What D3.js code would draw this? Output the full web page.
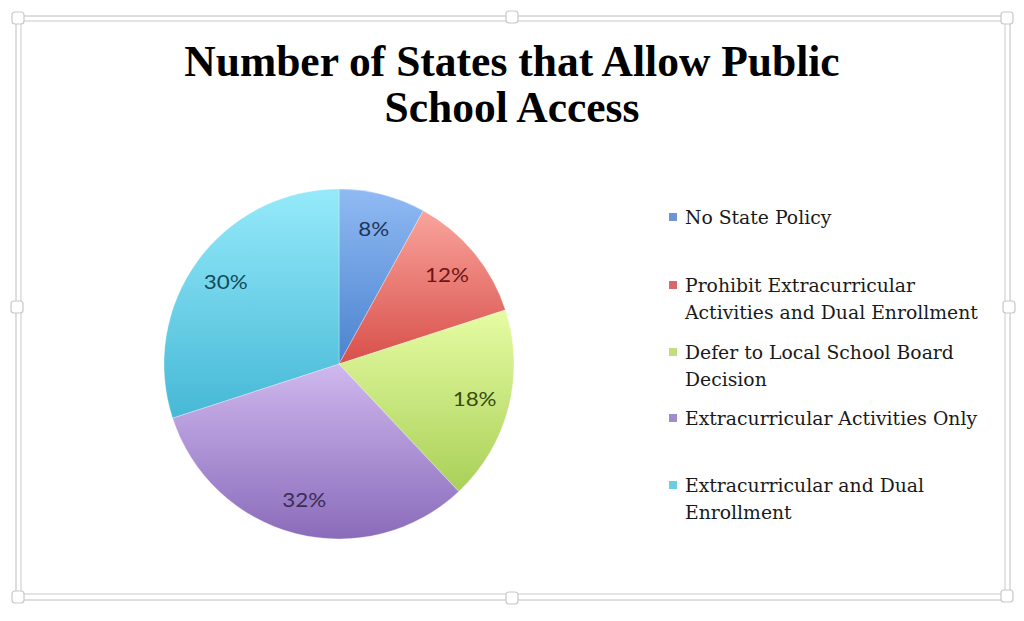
<!DOCTYPE html>
<html><head><meta charset="utf-8">
<script src="https://cdn.jsdelivr.net/npm/d3@7"></script>
<style>html,body{margin:0;padding:0;background:#fff;}svg{display:block;}</style>
</head><body>
<svg id="c" width="1024" height="621"></svg>
<script>
const categories = ["No State Policy","Prohibit Extracurricular Activities and Dual Enrollment","Defer to Local School Board Decision","Extracurricular Activities Only","Extracurricular and Dual Enrollment"];
const legendLines = [["No State Policy"],["Prohibit Extracurricular","Activities and Dual Enrollment"],["Defer to Local School Board","Decision"],["Extracurricular Activities Only"],["Extracurricular and Dual","Enrollment"]];
const values = [8,12,18,32,30];
const titleLines = ["Number of States that Allow Public","School Access"];
const lightColors = ["#90BAF3","#F9A49C","#E6FCA3","#CFB8EE","#95EAFA"];
const darkColors  = ["#4A83CF","#D84F4A","#A9D058","#8A6BBB","#46B8D6"];
const labelColors = ["#1E3356","#6E1512","#3A4A10","#3A2C55","#134B5A"];
const legendColors= ["#6D96D6","#D9676A","#C2DC80","#9F8CC8","#6CCCE2"];

const svg = d3.select("#c");

// frame
const frame = svg.append("g");
frame.append("rect").attr("x",16).attr("y",16).attr("width",994).attr("height",584)
  .attr("fill","none").attr("stroke","#d4d4d4").attr("stroke-width",1.5);
frame.append("rect").attr("x",21).attr("y",21).attr("width",984).attr("height",573)
  .attr("fill","none").attr("stroke","#dcdcdc").attr("stroke-width",1.5);
const handles = [[18,18],[512,17],[1007,18],[17,307],[1009,307],[18,597],[512,598],[1007,596]];
frame.selectAll("rect.h").data(handles).join("rect").attr("class","h")
  .attr("x",d=>d[0]-6).attr("y",d=>d[1]-6).attr("width",12).attr("height",12).attr("rx",3)
  .attr("fill","#fff").attr("stroke","#c8c8c8").attr("stroke-width",1.2);

// title
const title = svg.append("text").attr("text-anchor","middle")
  .attr("font-family","'Liberation Serif','DejaVu Serif',serif").attr("font-weight","bold")
  .attr("font-size",43.5).attr("fill","#000");
title.selectAll("tspan").data(titleLines).join("tspan")
  .attr("x",512).attr("y",(d,i)=>76+i*46).text(d=>d);

// gradients
const defs = svg.append("defs");
const cx = 339, cy = 364, r = 175;
values.forEach((v,i)=>{
  const g = defs.append("linearGradient").attr("id","g"+i)
    .attr("x1",0).attr("y1",0).attr("x2",0).attr("y2",1);
  g.append("stop").attr("offset","0%").attr("stop-color",lightColors[i]);
  g.append("stop").attr("offset","100%").attr("stop-color",darkColors[i]);
});

const pie = d3.pie().sort(null).value(d=>d)(values);
const arc = d3.arc().innerRadius(0).outerRadius(r);
const labelArc = d3.arc().innerRadius(140).outerRadius(140);
const pg = svg.append("g").attr("transform",`translate(${cx},${cy})`);
pg.selectAll("path").data(pie).join("path").attr("d",arc).attr("fill",(d,i)=>`url(#g${i})`)
  .attr("stroke","#ffffff").attr("stroke-width",0.6).attr("stroke-opacity",0.5);
pg.selectAll("text").data(pie).join("text")
  .attr("transform",d=>`translate(${labelArc.centroid(d)}) scale(1.12,1)`)
  .attr("text-anchor","middle").attr("dy","0.36em")
  .attr("font-family","Lato,'Open Sans',sans-serif").attr("font-size",20)
  .attr("fill",(d,i)=>labelColors[i]).text(d=>d.value+"%");

// legend
const legendY = [217,285,352,418,485];
const lg = svg.append("g");
legendLines.forEach((lines,i)=>{
  lg.append("rect").attr("x",669).attr("y",legendY[i]-4).attr("width",8).attr("height",8)
    .attr("fill",legendColors[i]);
  const t = lg.append("text").attr("font-family","'DejaVu Serif','Liberation Serif',serif")
    .attr("font-size",18.8).attr("fill","#1a1a1a");
  t.selectAll("tspan").data(lines).join("tspan").attr("x",685)
    .attr("y",(d,j)=>legendY[i]+7+j*27).text(d=>d);
});
</script>
</body></html>
